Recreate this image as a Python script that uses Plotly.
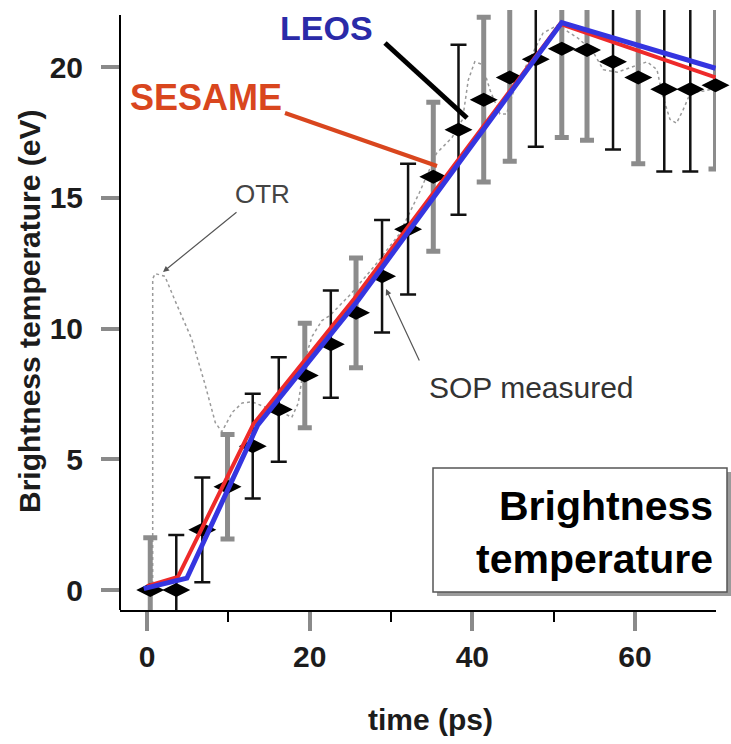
import plotly.graph_objects as go

# SOP measured brightness temperature (streak camera samples)
time_ps = [0.4, 3.6, 6.8, 9.9, 13.0, 16.2, 19.4, 22.6, 25.7, 28.9, 32.1, 35.2,
           38.3, 41.4, 44.6, 47.8, 51.0, 54.1, 57.3, 60.4, 63.6, 66.8, 69.9]
sop_ev = [0.0, 0.0, 2.3, 3.95, 5.5, 6.9, 8.2, 9.4, 10.6, 12.0, 13.8, 15.8,
          17.6, 18.75, 19.6, 20.3, 20.7, 20.65, 20.2, 19.6, 19.15, 19.15, 19.3]
sop_err = [2.0, 2.1, 2.0, 2.0, 2.0, 2.0, 2.0, 2.05, 2.1, 2.15, 2.5, 2.85,
           3.25, 3.15, 3.2, 3.35, 3.4, 3.45, 3.35, 3.3, 3.15, 3.15, 3.2]
# error-bar style per sample: "g" = gray channel, "k" = black channel
bar_channel = ["g", "k", "k", "g", "k", "k", "g", "k", "g", "k", "k", "g",
               "k", "g", "g", "k", "g", "g", "k", "g", "k", "k", "g"]

# OTR signal (dotted trace)
otr_t = [0.7, 0.7, 1.0, 2.2, 3.4, 5.5, 7.1, 8.4, 9.2, 10.5, 11.7, 12.9, 14.5,
         16.6, 17.8, 18.6, 19.4, 20.3, 21.5, 22.5, 25.0, 28.0, 31.0, 33.5,
         35.6, 37.5, 38.8, 39.5, 40.3, 41.2, 42.2, 43.4, 44.2, 45.0, 46.2,
         47.5, 48.7, 50.5, 52.0, 53.0, 54.8, 56.1, 57.8, 59.8, 61.5, 62.7,
         63.4, 64.3, 65.1, 65.9, 66.8, 68.8, 70.0]
otr_ev = [0.0, 11.9, 12.1, 12.0, 11.1, 9.6, 7.9, 6.4, 6.05, 6.8, 7.15, 7.2, 7.0,
          6.8, 6.6, 7.15, 8.8, 9.7, 10.3, 10.5, 11.3, 12.4, 13.6, 15.2,
          16.7, 17.3, 18.0, 19.5, 20.2, 20.1, 19.1, 18.2, 18.2, 19.0, 19.8,
          20.6, 21.3, 21.6, 21.3, 21.1, 20.6, 19.9, 19.8, 20.0, 20.2, 19.9,
          18.9, 18.0, 17.85, 18.35, 19.0, 19.1, 19.2]

# Simulations
leos_t = [-0.4, 4.9, 13.6, 26.0, 51.0, 69.9]
leos_ev = [0.05, 0.45, 6.3, 11.1, 21.7, 19.95]
sesame_t = [0.0, 3.8, 13.1, 25.5, 50.8, 69.9]
sesame_ev = [0.15, 0.5, 6.35, 11.15, 21.65, 19.6]

FONT = "Liberation Sans, Arial, Helvetica, sans-serif"
W, H = 731, 744
ML, MR, MT, MB = 120, 15, 10, 134
PW, PH = W - ML - MR, H - MT - MB


def px(x):
    return (x - ML) / PW


def py(y):
    return (H - MB - y) / PH


fig = go.Figure()

fig.add_trace(go.Scatter(
    x=otr_t, y=otr_ev, mode="lines",
    line=dict(color="#9a9a9a", width=1.5, dash="dot"),
    hoverinfo="skip", showlegend=False))

for ch, col, thick, cap in (("g", "#8c8c8c", 5, 7), ("k", "#111111", 2.5, 8)):
    idx = [i for i, c in enumerate(bar_channel) if c == ch]
    fig.add_trace(go.Scatter(
        x=[time_ps[i] for i in idx], y=[sop_ev[i] for i in idx],
        mode="markers", marker=dict(size=1, opacity=0),
        error_y=dict(type="data", array=[sop_err[i] for i in idx],
                     color=col, thickness=thick, width=cap),
        showlegend=False))

fig.add_trace(go.Scatter(
    x=time_ps, y=sop_ev, mode="markers",
    marker=dict(symbol="diamond-wide", size=20, color="black"),
    cliponaxis=False, showlegend=False))

fig.add_trace(go.Scatter(
    x=sesame_t, y=sesame_ev, mode="lines",
    line=dict(color="#ee2a2a", width=4), showlegend=False))
fig.add_trace(go.Scatter(
    x=leos_t, y=leos_ev, mode="lines",
    line=dict(color="#3535e0", width=5), showlegend=False))

tickfont = dict(family=FONT, size=30, color="#1c1c1c", weight=700)

fig.update_layout(
    width=W, height=H, autosize=False,
    margin=dict(l=ML, r=MR, t=MT, b=MB, pad=0),
    paper_bgcolor="white", plot_bgcolor="white",
    xaxis=dict(range=[-3.32, 69.96], tickvals=[0, 20, 40, 60],
               ticks="outside", ticklen=19, tickwidth=4, tickcolor="#8a8a8a",
               showline=True, linecolor="black", linewidth=2,
               showgrid=False, zeroline=False, tickfont=tickfont,
               ticklabelstandoff=0,
               minor=dict(tickvals=[10, 30, 50, 70], ticks="outside",
                          ticklen=10, tickwidth=2, tickcolor="black")),
    yaxis=dict(range=[-0.765, 22.18], tickvals=[0, 5, 10, 15, 20],
               ticks="outside", ticklen=18, tickwidth=4, tickcolor="#8a8a8a",
               showline=False, showgrid=False, zeroline=False,
               tickfont=tickfont, ticklabelstandoff=12),
)

shapes = [
    # left axis line
    dict(type="line", xref="paper", yref="paper", x0=0, x1=0, y0=0, y1=py(15),
         line=dict(color="black", width=2)),
    # pointer lines for the model labels
    dict(type="line", xref="paper", yref="paper",
         x0=px(385), y0=py(43), x1=px(467), y1=py(118),
         line=dict(color="black", width=5)),
    dict(type="line", xref="paper", yref="paper",
         x0=px(285), y0=py(113), x1=px(437), y1=py(166),
         line=dict(color="#d9461e", width=4)),
    # caption box with drop shadow
    dict(type="rect", xref="paper", yref="paper",
         x0=px(437), y0=py(596), x1=px(731), y1=py(472),
         line=dict(width=0), fillcolor="#9a9a9a"),
    dict(type="rect", xref="paper", yref="paper",
         x0=px(433), y0=py(592), x1=px(727), y1=py(468),
         line=dict(color="#555555", width=1.5), fillcolor="white"),
]
fig.update_layout(shapes=shapes)

ann = [
    dict(text="LEOS", x=px(326), y=py(28),
         font=dict(family=FONT, size=34, color="#2a2aa8", weight=700)),
    dict(text="SESAME", x=px(206), y=py(98),
         font=dict(family=FONT, size=36, color="#d9461e", weight=700)),
    dict(text="OTR", x=px(262), y=py(194),
         font=dict(family=FONT, size=26, color="#444444")),
    dict(text="SOP measured", x=px(531), y=py(387),
         font=dict(family=FONT, size=30, color="#333333")),
    dict(text="Brightness", x=px(715), y=py(506), xanchor="right",
         font=dict(family=FONT, size=41, color="black", weight=700)),
    dict(text="temperature", x=px(715), y=py(559), xanchor="right",
         font=dict(family=FONT, size=41, color="black", weight=700)),
    dict(text="time (ps)", x=px(430), y=py(719),
         font=dict(family=FONT, size=30, color="#1c1c1c", weight=700)),
    dict(text="Brightness temperature (eV)", x=px(29), y=py(312),
         textangle=-90,
         font=dict(family=FONT, size=30, color="#1c1c1c", weight=700)),
]
annotations = []
for a in ann:
    a.setdefault("xanchor", "center")
    a.update(xref="paper", yref="paper", yanchor="middle", showarrow=False)
    annotations.append(a)

# thin pointer arrows
annotations.append(dict(
    x=(163 - 147) / 8.133, y=(590 - 272) / 26.15, xref="x", yref="y",
    ax=75, ay=-61, text="", showarrow=True, arrowhead=2, arrowsize=1,
    arrowwidth=1.2, arrowcolor="#555555"))
annotations.append(dict(
    x=(386 - 147) / 8.133, y=(590 - 289) / 26.15, xref="x", yref="y",
    ax=34, ay=73, text="", showarrow=True, arrowhead=2, arrowsize=1,
    arrowwidth=1.2, arrowcolor="#555555"))

fig.update_layout(annotations=annotations)

fig.write_html("out.html")
